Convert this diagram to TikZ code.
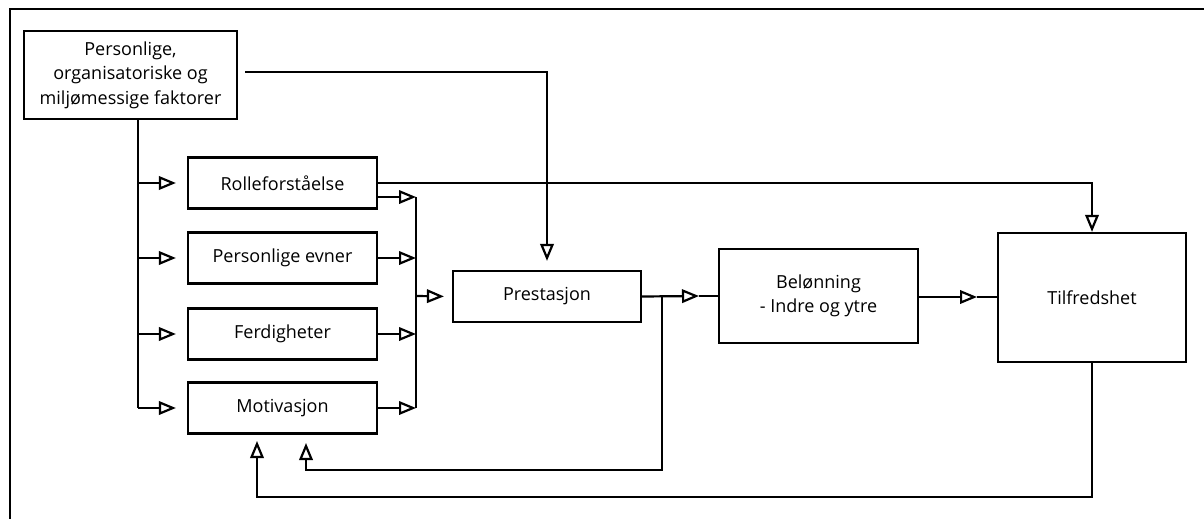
\documentclass[tikz,border=0pt]{standalone}
\usepackage{fontspec}
\setmainfont{Open Sans}
\usetikzlibrary{arrows.meta}
\tikzset{
  box/.style={draw, line width=2.2pt, align=center, inner sep=0pt,
              font=\fontsize{18}{24.5}\selectfont},
  link/.style={line width=2.2pt},
  arr/.style={link, -{Triangle[open, length=17pt, width=13.5pt, line width=2.2pt]}},
}
\begin{document}
\begin{tikzpicture}[x=1pt, y=-1pt]
\useasboundingbox (0,0) rectangle (1204,519);

% frame edges
\draw[link] (10,519) -- (10,9) -- (1204,9);

% boxes
\node[box, minimum width=213pt, minimum height=88pt] (top) at (130.5,75)
  {Personlige,\\organisatoriske og\\miljømessige faktorer};
\node[box, minimum width=189pt, minimum height=51pt] (rolle) at (282.5,183) {Rolleforståelse};
\node[box, minimum width=189pt, minimum height=51pt] (evner) at (282.5,258) {Personlige evner};
\node[box, minimum width=189pt, minimum height=51pt] (ferd)  at (282.5,334) {Ferdigheter};
\node[box, minimum width=189pt, minimum height=51pt] (motiv) at (282.5,408) {Motivasjon};
\node[box, minimum width=188pt, minimum height=51pt] (prest) at (547,296.5) {Prestasjon};
\node[box, minimum width=199pt, minimum height=94pt] (belon) at (818.5,296) {Belønning\\- Indre og ytre};
\node[box, minimum width=188pt, minimum height=129pt] (tilf) at (1092,297.5) {Tilfredshet};

% junction points
\coordinate (lbus) at (138,119);
\coordinate (lbusend) at (138,408);
\coordinate (rbustop) at (416,197);
\coordinate (rbusend) at (416,408);
\coordinate (rbusmid) at (416,296);
\coordinate (pb) at (699,296);
\coordinate (bt) at (977,297);
\coordinate (fb) at (662,296);
\coordinate (fbturn) at (306,470);
\coordinate (tbturn) at (257,497);
\coordinate (topout) at (245,72);

% left distribution bus
\draw[link] (lbus) -- (lbusend);
\foreach \b in {rolle, evner, ferd, motiv}
  \draw[arr, shorten >=11pt] (lbus |- \b.west) -- (\b.west);

% right collection bus
\draw[link] (rbustop) -- (rbusend);
\draw[arr] (rolle.east |- rbustop) -- (rbustop);
\foreach \b in {evner, ferd, motiv}
  \draw[arr] (\b.east) -- (rbustop |- \b.east);
\draw[arr, shorten >=8pt] (rbusmid) -- (prest.west);

% factors to performance
\draw[arr, shorten >=9pt] (topout) -| (prest.north);

% performance to reward
\draw[arr] (prest.east) -- (pb);
\draw[link] (pb) -- (belon.west);

% reward to satisfaction
\draw[arr] (belon.east |- bt) -- (bt);
\draw[link] (bt) -- (tilf.west |- bt);

% role understanding to satisfaction
\draw[arr] (rolle.east) -| (tilf.north);

% feedback loops to motivation
\draw[arr] (fb) |- (fbturn) -- (306,443);
\draw[arr] (tilf.south) |- (tbturn) -- (257,441);
\end{tikzpicture}
\end{document}
